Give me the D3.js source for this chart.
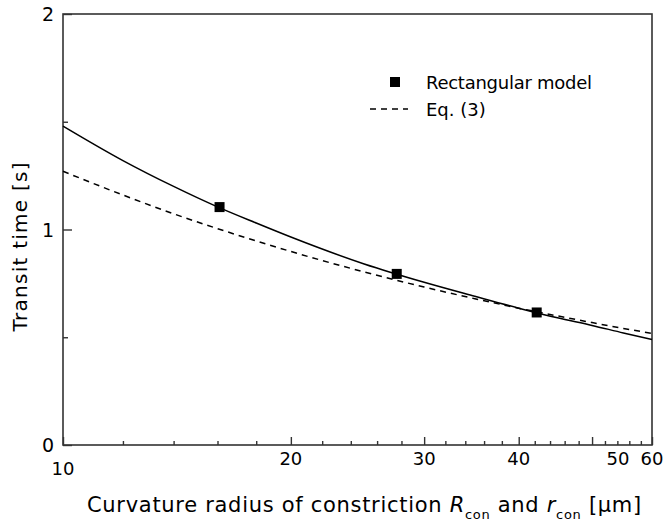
<!DOCTYPE html>
<html>
<head>
<meta charset="utf-8">
<script src="https://cdn.jsdelivr.net/npm/d3@7"></script>
<style>
  body { margin: 0; background: #fff; }
  svg { display: block; font-family: "DejaVu Sans", sans-serif; }
</style>
</head>
<body>
<svg id="chart"></svg>
<script>
// values
const radius = [10, 12, 14, 16, 18, 20, 25, 30, 35, 40, 45, 50, 55, 60];
const rectCurve = [1.48, 1.32, 1.20, 1.105, 1.03, 0.965, 0.84, 0.755, 0.69, 0.635, 0.59, 0.555, 0.52, 0.49];
const eq3Curve = [1.27, 1.16, 1.073, 1.004, 0.947, 0.898, 0.803, 0.733, 0.679, 0.635, 0.599, 0.568, 0.541, 0.518];
const pointR = [16.1, 27.6, 42.25];
const pointT = [1.104, 0.794, 0.615];
const xMajor = [10, 20, 30, 40, 50, 60];
const xMinor = d3.range(12, 60, 2).filter(v => v % 10 !== 0);
const yMajor = [0, 1, 2];
const yMinor = [0.5, 1.5];

const width = 670, height = 527;
const margin = { top: 14, right: 18, bottom: 82, left: 63 };
const w = width - margin.left - margin.right;
const h = height - margin.top - margin.bottom;

const svg = d3.select("#chart").attr("width", width).attr("height", height);
const g = svg.append("g").attr("transform", `translate(${margin.left},${margin.top})`);

const x = d3.scaleLog().domain([10, 60]).range([0, w]);
const y = d3.scaleLinear().domain([0, 2]).range([h, 0]);

// frame
g.append("rect")
  .attr("width", w).attr("height", h)
  .attr("fill", "none").attr("stroke", "#333").attr("stroke-width", 1.6);

// inward ticks
function ticks(axis, tr) {
  const a = g.append("g").attr("transform", tr).call(axis);
  a.select(".domain").remove();
  a.selectAll("line").attr("stroke", "#333").attr("stroke-width", 1.4);
  a.selectAll("text").remove();
  return a;
}
ticks(d3.axisBottom(x).tickValues(xMajor).tickSize(-8), `translate(0,${h})`);
ticks(d3.axisBottom(x).tickValues(xMinor).tickSize(-4), `translate(0,${h})`);
ticks(d3.axisLeft(y).tickValues(yMajor).tickSize(-9), null);
ticks(d3.axisLeft(y).tickValues(yMinor).tickSize(-5), null);

// tick labels
const xLabelShift = { 10: [0, 30], 50: [26, 20] };
g.selectAll(".xl").data(xMajor).enter().append("text")
  .attr("x", d => x(d) + (xLabelShift[d] ? xLabelShift[d][0] : 0))
  .attr("y", d => h + (xLabelShift[d] ? xLabelShift[d][1] : 20))
  .attr("text-anchor", "middle")
  .attr("font-size", 18)
  .text(d => d);

g.selectAll(".yl").data(yMajor).enter().append("text")
  .attr("x", -9)
  .attr("y", d => y(d) + 7)
  .attr("text-anchor", "end")
  .attr("font-size", 19)
  .text(d => d);

// curves
const line = d3.line().x(d => x(d[0])).y(d => y(d[1])).curve(d3.curveMonotoneX);
g.append("path")
  .datum(radius.map((r, i) => [r, rectCurve[i]]))
  .attr("d", line).attr("fill", "none").attr("stroke", "#000").attr("stroke-width", 1.5);
g.append("path")
  .datum(radius.map((r, i) => [r, eq3Curve[i]]))
  .attr("d", line).attr("fill", "none").attr("stroke", "#000").attr("stroke-width", 1.5)
  .attr("stroke-dasharray", "6,5");

// rectangular model points
g.selectAll(".pt").data(pointR).enter().append("rect")
  .attr("x", d => x(d) - 5)
  .attr("y", (d, i) => y(pointT[i]) - 5)
  .attr("width", 10).attr("height", 10)
  .attr("fill", "#000");

// legend
const leg = svg.append("g");
leg.append("rect").attr("x", 390).attr("y", 77).attr("width", 10).attr("height", 10).attr("fill", "#000");
leg.append("text").attr("x", 426).attr("y", 89).attr("font-size", 18)
  .attr("textLength", 166).text("Rectangular model");
leg.append("line").attr("x1", 370).attr("x2", 408).attr("y1", 109).attr("y2", 109)
  .attr("stroke", "#000").attr("stroke-width", 1.5).attr("stroke-dasharray", "6,5");
leg.append("text").attr("x", 426).attr("y", 116).attr("font-size", 18).text("Eq. (3)");

// axis titles
const xt = svg.append("text")
  .attr("x", 87).attr("y", 512)
  .attr("font-size", 21)
  .attr("letter-spacing", 0.7);
xt.append("tspan").text("Curvature radius of constriction ");
xt.append("tspan").attr("font-style", "italic").text("R");
xt.append("tspan").attr("font-size", 13).attr("dy", 7).text("con");
xt.append("tspan").attr("dy", -7).text(" and ");
xt.append("tspan").attr("font-style", "italic").text("r");
xt.append("tspan").attr("font-size", 13).attr("dy", 7).text("con");
xt.append("tspan").attr("dy", -7).text(" [\u03bcm]");

svg.append("text")
  .attr("transform", "translate(27,247) rotate(-90)")
  .attr("text-anchor", "middle")
  .attr("font-size", 20)
  .attr("textLength", 169)
  .text("Transit time [s]");
</script>
</body>
</html>
